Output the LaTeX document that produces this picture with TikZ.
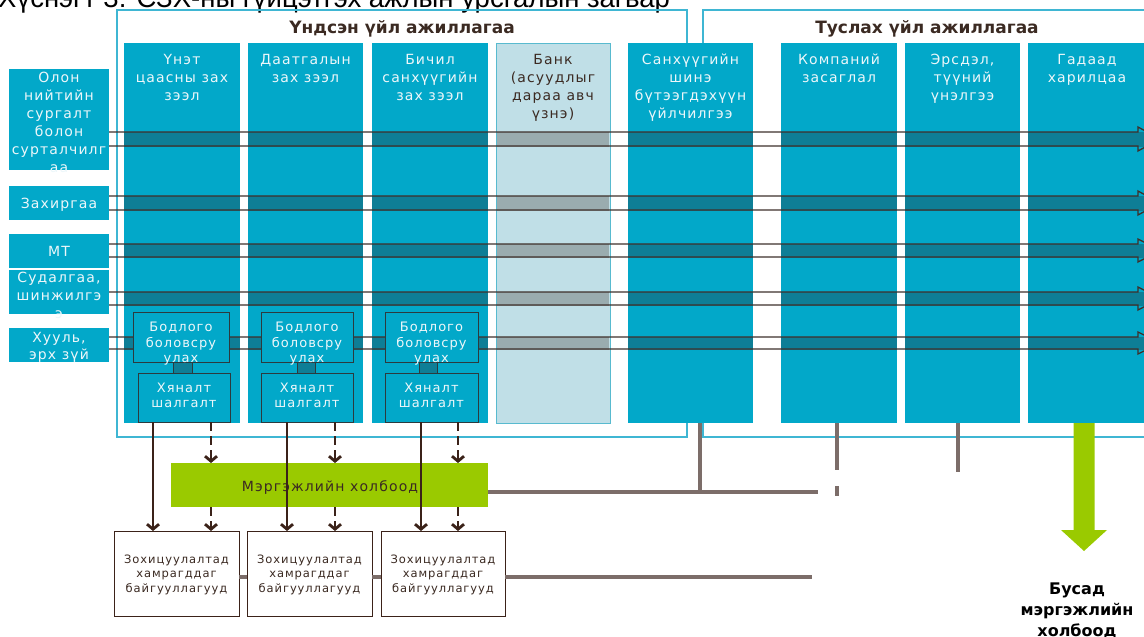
\documentclass[tikz,border=0pt]{standalone}
\usepackage{fontspec}
\setmainfont{DejaVu Sans}[LetterSpace=8]
\newfontfamily\hdf{DejaVu Sans}
\newfontfamily\capf{Liberation Sans}
\usetikzlibrary{arrows.meta,calc}
\definecolor{colc}{HTML}{02A8C9}
\definecolor{band}{HTML}{0E7E96}
\definecolor{bankc}{HTML}{C0DFE7}
\definecolor{bankb}{HTML}{58BACF}
\definecolor{bankband}{HTML}{9AACAF}
\definecolor{framec}{HTML}{3FB6D3}
\definecolor{dbrown}{HTML}{3B2219}
\definecolor{lbrown}{HTML}{3E302B}
\definecolor{gry}{HTML}{7C6D69}
\definecolor{grn}{HTML}{9ACA00}
\definecolor{coltext}{HTML}{EDF7FA}
\definecolor{hdrc}{HTML}{3B2A22}
\definecolor{dkline}{HTML}{2C3A3E}
\newcommand\mkbox[6]{\node[#6,minimum width={#4-#2},minimum height={#5-#3}] (#1) at (#2,#3) {};}
\begin{document}
\begin{tikzpicture}[x=1pt,y=-1pt,
  box/.style={rectangle,inner sep=0pt,outer sep=0pt,anchor=north west},
  colbox/.style={box,fill=colc},
  bankbox/.style={box,fill=bankc,draw=bankb,line width=1pt},
  subbox/.style={box,fill=colc,draw=dkline,line width=0.9pt},
  grnbox/.style={box,fill=grn},
  orgbox/.style={box,fill=white,draw=dbrown,line width=0.9pt},
  ctxt/.style={anchor=base,align=center,inner sep=0pt,text=coltext,font=\fontsize{14}{18}\selectfont},
  btxt/.style={ctxt,text=hdrc},
  stxt/.style={anchor=base,align=center,inner sep=0pt,text=coltext,font=\fontsize{13}{15.5}\selectfont},
  otxt/.style={anchor=base,align=center,inner sep=0pt,text=hdrc,font=\fontsize{11.5}{14.5}\selectfont},
  hdr/.style={anchor=base,inner sep=0pt,text=hdrc,font=\hdf\bfseries\fontsize{17}{20}\selectfont},
  framest/.style={draw=framec,line width=1.8pt},
  rowline/.style={draw=lbrown,line width=1.3pt},
  solidarr/.style={draw=dbrown,line width=2.8pt,-{Straight Barb[length=5pt,width=12pt]}},
  dasharr/.style={solidarr,dash pattern=on 9pt off 5pt},
  grayc/.style={draw=gry,line width=4pt},
  linkst/.style={fill=band,draw=dkline,line width=0.8pt}
]
\useasboundingbox (0,0) rectangle (1144,637);
\begin{scope}
\clip (0,0) rectangle (1144,637);
% caption (cut at the top)
\node[anchor=base west,inner sep=0pt,font=\capf\fontsize{27.5}{30}\selectfont] (cap) at (-2,7) {Хүснэгт 3. СЗХ-ны гүйцэтгэх ажлын урсгалын загвар};
% frames
\draw[framest] (117,10) rectangle (687,437);
\draw[framest] (703,10) rectangle (1170,437);
\node[hdr] (hd1) at (402,34) {Үндсэн үйл ажиллагаа};
\node[hdr] (hd2) at (927,34) {Туслах үйл ажиллагаа};
% columns
\mkbox{c1}{124}{43}{240}{423}{colbox}
\mkbox{c2}{248}{43}{363}{423}{colbox}
\mkbox{c3}{372}{43}{488}{423}{colbox}
\mkbox{c4}{496}{43}{610}{423}{bankbox}
\mkbox{c5}{628}{43}{753}{423}{colbox}
\mkbox{c6}{781}{43}{897}{423}{colbox}
\mkbox{c7}{905}{43}{1020}{423}{colbox}
\mkbox{c8}{1028}{43}{1150}{423}{colbox}
\node[ctxt] (t1) at (182,100) {Үнэт\\цаасны зах\\зээл};
\node[ctxt] (t2) at (305.5,82) {Даатгалын\\зах зээл};
\node[ctxt] (t3) at (430,100) {Бичил\\санхүүгийн\\зах зээл};
\node[btxt] (t4) at (553,118) {Банк\\(асуудлыг\\дараа авч\\үзнэ)};
\node[ctxt] (t5) at (690.5,118) {Санхүүгийн\\шинэ\\бүтээгдэхүүн\\үйлчилгээ};
\node[ctxt] (t6) at (839,82) {Компаний\\засаглал};
\node[ctxt] (t7) at (962.5,100) {Эрсдэл,\\түүний\\үнэлгээ};
\node[ctxt] (t8) at (1087,82) {Гадаад\\харилцаа};
% row labels
\mkbox{r1}{9}{69}{109}{170}{colbox}
\mkbox{r2}{9}{186}{109}{220}{colbox}
\mkbox{r3}{9}{234}{109}{268}{colbox}
\mkbox{r4}{9}{270}{109}{314}{colbox}
\mkbox{r5}{9}{328}{109}{362}{colbox}
\node[ctxt] (l1) at (59,172) {Олон\\нийтийн\\сургалт\\болон\\сурталчилг\\аа};
\node[ctxt] (l2) at (59,208) {Захиргаа};
\node[ctxt] (l3) at (59,256) {МТ};
\node[ctxt] (l4) at (59,318) {Судалгаа,\\шинжилгэ\\э};
\node[ctxt,font=\fontsize{14}{17}\selectfont] (l5) at (59,359) {Хууль,\\эрх зүй};
% bands in the columns
\foreach \a/\b in {124/240,248/363,372/488,628/753,781/897,905/1020,1028/1150}{
  \foreach \u/\v in {132/146,196/210,244/257,292/305,337/349}{
    \fill[band] (\a,\u) rectangle (\b,\v+1);
  }
}
\foreach \u/\v in {132/146,196/210,244/257,292/305,337/349}{
  \fill[bankband] (497,\u) rectangle (609,\v+1);
}
% row arrows
\foreach \r/\u/\v in {r1/132/146,r2/196/210,r3/244/257,r4/292/305,r5/337/349}{
  \draw[rowline] (\r.east |- 0,\u) -- (1138,\u) -- (1138,\u-5) -- (1160,{(\u+\v)/2}) -- (1138,\v+5) -- (1138,\v) -- (\r.east |- 0,\v);
}
% sub boxes
\mkbox{b1}{133}{312}{229}{362}{subbox}
\mkbox{b2}{261}{312}{353}{362}{subbox}
\mkbox{b3}{385}{312}{478}{362}{subbox}
\mkbox{h1}{138}{373}{230}{422}{subbox}
\mkbox{h2}{261}{373}{353}{422}{subbox}
\mkbox{h3}{385}{373}{478}{422}{subbox}
\draw[linkst] (173,0 |- b1.south) rectangle (192,0 |- h1.north);
\draw[linkst] (297,0 |- b2.south) rectangle (315,0 |- h2.north);
\draw[linkst] (419,0 |- b3.south) rectangle (437,0 |- h3.north);
\node[stxt] (bt1) at (181,362.5) {Бодлого\\боловсру\\улах};
\node[stxt] (bt2) at (307,362.5) {Бодлого\\боловсру\\улах};
\node[stxt] (bt3) at (431.5,362.5) {Бодлого\\боловсру\\улах};
\node[stxt,font=\fontsize{13}{15}\selectfont] (ht1) at (184,407) {Хяналт\\шалгалт};
\node[stxt,font=\fontsize{13}{15}\selectfont] (ht2) at (307,407) {Хяналт\\шалгалт};
\node[stxt,font=\fontsize{13}{15}\selectfont] (ht3) at (431.5,407) {Хяналт\\шалгалт};
% green box and organisations
\mkbox{g}{171}{463}{488}{507}{grnbox}
\node[anchor=base,inner sep=0pt,text=hdrc,font=\fontsize{14}{16}\selectfont] (gt) at (330,491) {Мэргэжлийн холбоод};
\mkbox{z1}{114}{531}{239}{616}{orgbox}
\mkbox{z2}{247}{531}{372}{616}{orgbox}
\mkbox{z3}{381}{531}{505}{616}{orgbox}
\node[otxt] (zt1) at (176.5,592) {Зохицуулалтад\\хамрагддаг\\байгууллагууд};
\node[otxt] (zt2) at (309.5,592) {Зохицуулалтад\\хамрагддаг\\байгууллагууд};
\node[otxt] (zt3) at (443,592) {Зохицуулалтад\\хамрагддаг\\байгууллагууд};
% vertical arrows
\draw[solidarr] (153,0 |- h1.south) -- (153,0 |- z1.north);
\draw[solidarr] (287,0 |- h2.south) -- (287,0 |- z2.north);
\draw[solidarr] (421,0 |- h3.south) -- (421,0 |- z3.north);
\draw[dasharr] (211,0 |- h1.south) -- (211,0 |- g.north);
\draw[dasharr] (335,0 |- h2.south) -- (335,0 |- g.north);
\draw[dasharr] (458,0 |- h3.south) -- (458,0 |- g.north);
\draw[dasharr] (211,0 |- g.south) -- (211,0 |- z1.north);
\draw[dasharr] (335,0 |- g.south) -- (335,0 |- z2.north);
\draw[dasharr] (458,0 |- g.south) -- (458,0 |- z3.north);
% gray connectors
\coordinate (ge) at (818,492);
\coordinate (ze) at (812,577);
\draw[grayc] (g.east |- 0,492) -- (ge);
\draw[grayc] (700,0 |- c5.south) -- (700,492);
\draw[grayc] (837,0 |- c6.south) -- (837,470);
\draw[grayc] (837,486) -- (837,496);
\draw[grayc] (958,0 |- c7.south) -- (958,472);
\draw[grayc] (z1.east |- 0,577) -- (z2.west |- 0,577);
\draw[grayc] (z2.east |- 0,577) -- (z3.west |- 0,577);
\draw[grayc] (z3.east |- 0,577) -- (ze);
% green arrow
\fill[grn] (1073.5,0 |- c8.south) -- (1073.5,530) -- (1061,530) -- (1084,551) -- (1107,530) -- (1094.5,530) -- (1094.5,0 |- c8.south) -- cycle;
\node[anchor=base,align=center,inner sep=0pt,text=black,font=\hdf\bfseries\fontsize{16}{21}\selectfont] (bus) at (1077,636) {Бусад\\мэргэжлийн\\холбоод};
\end{scope}
\end{tikzpicture}
\end{document}
